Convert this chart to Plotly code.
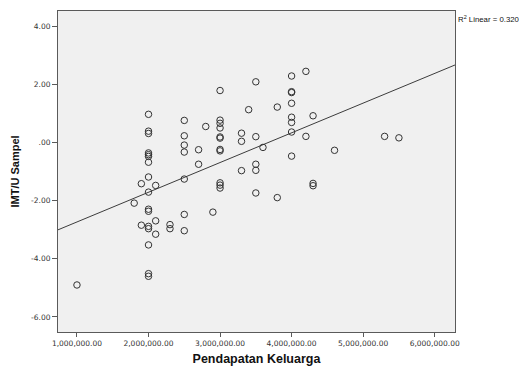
import numpy as np
import plotly.graph_objects as go

# Data (income in Rupiah, IMT/U z-score)
income = (
    [1000000]
    + [1800000]
    + [1900000] * 2
    + [2000000] * 16
    + [2100000] * 3
    + [2300000] * 2
    + [2500000] * 7
    + [2700000] * 2
    + [2800000]
    + [2900000]
    + [3000000] * 11
    + [3300000] * 3
    + [3400000]
    + [3500000] * 5
    + [3600000]
    + [3800000] * 2
    + [4000000] * 8
    + [4200000] * 2
    + [4300000] * 3
    + [4600000]
    + [5300000]
    + [5500000]
)
imtu = (
    [-4.90]
    + [-2.08]
    + [-1.41, -2.84]
    + [0.98, 0.40, 0.32, -0.35, -0.41, -0.47, -0.67, -1.18, -1.70, -2.29,
       -2.36, -2.88, -2.96, -3.52, -4.51, -4.60]
    + [-1.47, -2.69, -3.15]
    + [-2.82, -2.96]
    + [0.77, 0.24, -0.08, -0.32, -1.25, -2.47, -3.03]
    + [-0.24, -0.74]
    + [0.56]
    + [-2.39]
    + [1.80, 0.78, 0.67, 0.51, 0.20, 0.16, -0.23, -0.28, -1.38, -1.46, -1.56]
    + [0.33, 0.05, -0.96]
    + [1.14]
    + [2.10, 0.21, -0.74, -0.95, -1.73]
    + [-0.16]
    + [1.23, -1.89]
    + [2.30, 1.76, 1.73, 1.36, 0.88, 0.70, 0.37, -0.46]
    + [2.46, 0.22]
    + [0.93, -1.40, -1.48]
    + [-0.26]
    + [0.22]
    + [0.17]
)

# Fit line as shown in the reference
fit_intercept = -3.752
fit_slope = 1.0236e-6
r2_text = "R<sup>2</sup> Linear = 0.320"

x_ticks = [1000000, 2000000, 3000000, 4000000, 5000000, 6000000]
x_ticktext = ["1,000,000.00", "2,000,000.00", "3,000,000.00",
              "4,000,000.00", "5,000,000.00", "6,000,000.00"]
y_ticks = [-6, -4, -2, 0, 2, 4]
y_ticktext = ["-6.00", "-4.00", "-2.00", ".00", "2.00", "4.00"]

x_range = [735000, 6284000]
y_range = [-6.52, 4.54]

line_x = np.array(x_range, dtype=float)
line_y = fit_intercept + fit_slope * line_x

fig = go.Figure()
fig.add_trace(go.Scatter(
    x=line_x, y=line_y, mode="lines",
    line=dict(color="#3c3c3c", width=1),
    hoverinfo="skip", showlegend=False,
))
fig.add_trace(go.Scatter(
    x=income, y=imtu, mode="markers",
    marker=dict(symbol="circle-open", size=6.5, color="#333333",
                line=dict(width=1, color="#333333")),
    showlegend=False,
))

font_family = "Liberation Sans, Arial, sans-serif"
tick_font = dict(family="DejaVu Sans, sans-serif", size=7.5, color="#333333")
fig.update_layout(
    width=519, height=358,
    margin=dict(l=50, r=72, t=3, b=34),
    paper_bgcolor="white",
    plot_bgcolor="#f0f0f0",
    font=dict(family=font_family, color="#111111"),
    xaxis=dict(
        range=x_range, tickvals=x_ticks, ticktext=x_ticktext,
        showgrid=False, zeroline=False, automargin=False,
        showline=True, linecolor="#5a5a5a", linewidth=1, mirror=True,
        ticks="outside", ticklen=4, tickcolor="#5a5a5a",
        tickfont=tick_font,
        title=dict(text="<b>Pendapatan Keluarga</b>",
                   font=dict(family=font_family, size=12.5, color="#111111"), standoff=8),
    ),
    yaxis=dict(
        range=y_range, tickvals=y_ticks, ticktext=y_ticktext,
        showgrid=False, zeroline=False, automargin=False,
        showline=True, linecolor="#5a5a5a", linewidth=1, mirror=True,
        ticks="outside", ticklen=5, tickcolor="#5a5a5a",
        tickfont=tick_font,
        title=dict(text="<b>IMT/U Sampel</b>",
                   font=dict(family=font_family, size=11, color="#111111"), standoff=9),
    ),
    annotations=[dict(
        text=r2_text, x=1.0, y=1.0, xref="paper", yref="paper",
        xanchor="left", yanchor="top", showarrow=False, xshift=1, yshift=-1,
        font=dict(family=font_family, size=7.8, color="#111111"),
    )],
)

fig.write_html("out.html")
